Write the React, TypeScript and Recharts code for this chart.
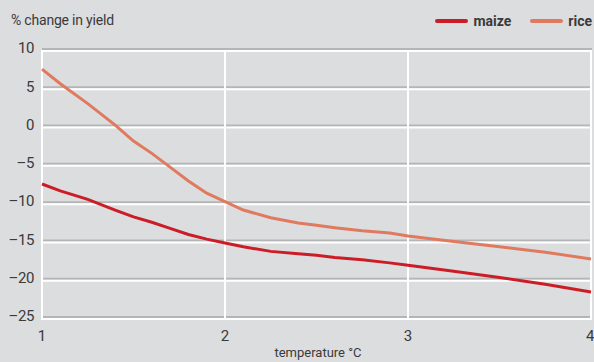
import { CartesianGrid, Legend, Line, LineChart, XAxis, YAxis } from "recharts";

const temperature = [1, 1.1, 1.25, 1.4, 1.5, 1.6, 1.7, 1.8, 1.9, 2, 2.1, 2.25, 2.4, 2.5, 2.6, 2.75, 2.9, 3, 3.25, 3.5, 3.75, 4];
const maize = [-7.5, -8.4, -9.5, -10.9, -11.8, -12.5, -13.3, -14.1, -14.7, -15.2, -15.7, -16.3, -16.6, -16.8, -17.1, -17.4, -17.8, -18.1, -18.9, -19.7, -20.6, -21.6];
const rice = [7.5, 5.6, 3.0, 0.2, -1.9, -3.5, -5.3, -7.1, -8.7, -9.8, -10.9, -11.9, -12.6, -12.9, -13.2, -13.6, -13.9, -14.3, -15.0, -15.7, -16.4, -17.3];
const xTicks = [1, 2, 3, 4];
const yTicks = [10, 5, 0, -5, -10, -15, -20, -25];

const data = temperature.map((t, i) => ({ t, maize: maize[i], rice: rice[i] }));

const BG = "#dcdddf";
const MAIZE = "#cc1d27";
const RICE = "#e07a5f";
const TEXT = "#3a3a3a";
const FONT = "Roboto, 'Liberation Sans', sans-serif";

// embossed gridline: grey on the value, white just below
const HLine = (props: any) => (
  <g key={`h-${props.index}-${props.y1}`}>
    <line x1={props.x1} x2={props.x2 + 1} y1={props.y1 - 1} y2={props.y1 - 1} stroke="#b4b5b7" strokeWidth={2} />
    <line x1={props.x1} x2={props.x2 + 1} y1={props.y1 + 1} y2={props.y1 + 1} stroke="#ffffff" strokeWidth={2} />
  </g>
);

const VLine = (props: any) => (
  <line key={`v-${props.index}-${props.x1}`} x1={props.x1} x2={props.x1} y1={props.y1} y2={props.y2 + 2} stroke="#ffffff" strokeWidth={2} />
);

const fmt = (v: number) => String(v).replace("-", "\u2013");

const LegendContent = () => (
  <div style={{ display: "flex", justifyContent: "flex-end", alignItems: "center", fontFamily: FONT, fontSize: 14, fontWeight: "bold", color: TEXT }}>
    {[
      { name: "maize", color: MAIZE },
      { name: "rice", color: RICE },
    ].map((d) => (
      <span key={d.name} style={{ display: "flex", alignItems: "center", marginLeft: 19 }}>
        <span style={{ display: "inline-block", width: 33, height: 4, borderRadius: 2, background: d.color, marginRight: 5 }} />
        {d.name}
      </span>
    ))}
  </div>
);

export default function App() {
  return (
    <div style={{ position: "absolute", left: 0, top: 0, width: 594, height: 362, background: BG, fontFamily: FONT }}>
      <div style={{ position: "absolute", left: 11, top: 12, fontSize: 14, letterSpacing: -0.2, color: TEXT }}>% change in yield</div>
      <div style={{ position: "absolute", left: 0, width: 636, top: 345, textAlign: "center", fontSize: 13, color: TEXT }}>
        temperature °C
      </div>
      <LineChart width={594} height={362} data={data} margin={{ top: 50, right: 3, left: 0, bottom: 0 }}>
        <CartesianGrid horizontal={HLine} vertical={VLine} />
        <XAxis
          dataKey="t"
          type="number"
          domain={[1, 4]}
          ticks={xTicks}
          height={44}
          axisLine={false}
          tickLine={false}
          tickMargin={6}
          tick={{ fill: TEXT, fontSize: 15, fontFamily: FONT }}
        />
        <YAxis
          domain={[-25, 10]}
          ticks={yTicks}
          width={42}
          axisLine={false}
          tickLine={false}
          tickMargin={2}
          tickFormatter={fmt}
          tick={{ fill: TEXT, fontSize: 15, fontFamily: FONT, letterSpacing: -0.4, dy: -2 }}
        />
        <Legend
          layout="horizontal"
          verticalAlign="middle"
          align="center"
          content={LegendContent}
          wrapperStyle={{ top: 13, left: 292, width: 300 }}
        />
        <Line type="linear" dataKey="maize" name="maize" stroke={MAIZE} strokeWidth={3} dot={false} isAnimationActive={false} />
        <Line type="linear" dataKey="rice" name="rice" stroke={RICE} strokeWidth={3} dot={false} isAnimationActive={false} />
      </LineChart>
    </div>
  );
}
